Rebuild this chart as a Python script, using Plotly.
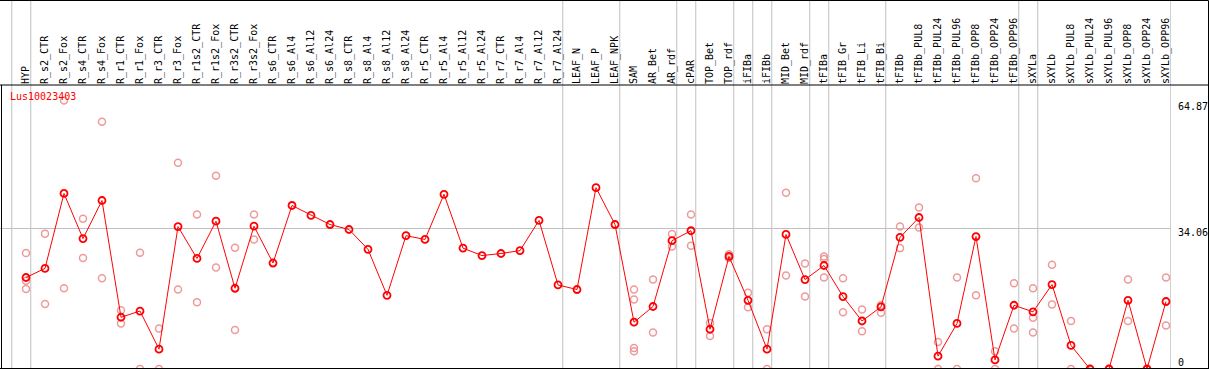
import plotly.graph_objects as go

categories = ["HYP", "R_s2_CTR", "R_s2_Fox", "R_s4_CTR", "R_s4_Fox", "R_r1_CTR", "R_r1_Fox",
              "R_r3_CTR", "R_r3_Fox", "R_r1s2_CTR", "R_r1s2_Fox", "R_r3s2_CTR", "R_r3s2_Fox",
              "R_s6_CTR", "R_s6_Al4", "R_s6_Al12", "R_s6_Al24", "R_s8_CTR", "R_s8_Al4", "R_s8_Al12",
              "R_s8_Al24", "R_r5_CTR", "R_r5_Al4", "R_r5_Al12", "R_r5_Al24", "R_r7_CTR", "R_r7_Al4",
              "R_r7_Al12", "R_r7_Al24", "LEAF_N", "LEAF_P", "LEAF_NPK", "SAM", "AR_Bet", "AR_rdf",
              "cPAR", "TOP_Bet", "TOP_rdf", "iFIBa", "iFIBb", "MID_Bet", "MID_rdf", "tFIBa",
              "tFIB_Gr", "tFIB_Li", "tFIB_Bi", "tFIBb", "tFIBb_PUL8", "tFIBb_PUL24", "tFIBb_PUL96",
              "tFIBb_OPP8", "tFIBb_OPP24", "tFIBb_OPP96", "sXYLa", "sXYLb", "sXYLb_PUL8",
              "sXYLb_PUL24", "sXYLb_PUL96", "sXYLb_OPP8", "sXYLb_OPP24", "sXYLb_OPP96"]

mean_values = [22.1, 24.3, 42.4, 31.5, 40.7, 12.5, 14.0, 4.8, 34.4, 26.7,
               35.7, 19.5, 34.5, 25.6, 39.5, 37.1, 34.9, 33.7, 28.9, 17.8,
               32.2, 31.3, 42.2, 29.2, 27.4, 27.9, 28.6, 35.9, 20.3, 19.2,
               43.8, 34.9, 11.3, 15.1, 31.0, 33.4, 9.6, 27.2, 16.6, 4.8,
               32.5, 21.6, 25.0, 17.5, 11.6, 15.0, 31.8, 36.6, 3.1, 11.0,
               32.0, 2.2, 15.4, 13.8, 20.4, 5.7, 0, 0, 16.6, 0, 16.3]

replicates = [
    [28.0, 21.3, 19.3], [32.7, 15.7], [64.87, 19.5], [36.3, 26.8], [59.7, 21.9],
    [14.2, 11.0], [28.1, 0], [9.8, 0], [49.8, 19.2], [37.3, 16.1],
    [46.7, 24.5], [29.3, 9.4], [37.3, 31.3], [], [],
    [], [], [], [], [],
    [], [], [], [], [],
    [], [], [], [], [],
    [], [], [19.2, 16.8, 5.1, 4.3], [21.6, 8.8], [32.6, 29.6],
    [37.3, 29.8], [11.1, 8.0], [27.7, 26.8], [18.4, 14.9], [9.6, 0],
    [42.6, 22.6], [25.5, 17.5], [27.2, 26.6, 22.1], [21.9, 13.7], [14.4, 9.1],
    [15.4, 13.6], [34.4, 29.2], [39.0, 34.2], [6.5, 0], [22.1, 0],
    [46.1, 17.8], [4.3, 0], [20.7, 9.8], [19.5, 12.4, 8.8], [25.2, 15.6],
    [11.6, 0], [0, 0], [0, 0], [21.6, 11.6], [0, 0], [22.1, 10.5],
]

# index of last category in each group (separator drawn after it)
group_ends = [-1, 0, 28, 31, 34, 35, 37, 38, 39, 41, 42, 45, 52, 53, 60]

axis_labels = [0, 34.06, 64.87]
gene_name = "Lus10023403"

FONT = "DejaVu Sans Mono"
W, H = 1209, 370
T, B, L, R = 85, 1, 0, 38
plot_w = W - L - R
plot_h = H - T - B
slot = 19.0
first_px = 26.0
x_min = -first_px / slot
x_max = (plot_w - first_px) / slot
px_per_unit = 141 / 34.06
y_max = plot_h / px_per_unit

rep_x, rep_y = [], []
for cat, vals in zip(categories, replicates):
    for v in vals:
        rep_x.append(cat)
        rep_y.append(v)

fig = go.Figure()
fig.add_trace(go.Scatter(
    x=rep_x, y=rep_y, mode="markers",
    marker=dict(symbol="circle-open", size=7, color="#ee9a9a", line=dict(width=1.5)),
    hoverinfo="skip", showlegend=False))
fig.add_trace(go.Scatter(
    x=categories, y=mean_values, mode="lines+markers",
    line=dict(color="#ff0000", width=1),
    marker=dict(symbol="circle-open", size=7, color="#ff0000", line=dict(width=1.8)),
    showlegend=False))

top_paper = (plot_h + T - 0.5) / plot_h
right_paper = (W - 0.5) / plot_w
shapes = []
for g in group_ends:
    shapes.append(dict(type="line", xref="x", yref="paper", x0=g + 0.25, x1=g + 0.25,
                       y0=0, y1=top_paper, line=dict(color="#c0c0c0", width=1), layer="below"))
# frame lines
shapes += [
    dict(type="line", xref="paper", yref="paper", x0=0, x1=right_paper, y0=top_paper, y1=top_paper,
         line=dict(color="black", width=1)),
    dict(type="line", xref="paper", yref="paper", x0=0, x1=right_paper, y0=1, y1=1,
         line=dict(color="black", width=1)),
    dict(type="line", xref="paper", yref="paper", x0=0, x1=right_paper, y0=0.5 / plot_h, y1=0.5 / plot_h,
         line=dict(color="black", width=1)),
    dict(type="line", xref="paper", yref="paper", x0=right_paper, x1=right_paper, y0=0, y1=top_paper,
         line=dict(color="black", width=1)),
    dict(type="line", xref="paper", yref="paper", x0=1.5 / plot_w, x1=1.5 / plot_w, y0=0, y1=1,
         line=dict(color="black", width=1)),
]

annotations = [dict(text=gene_name, xref="paper", yref="paper", x=8 / plot_w, xanchor="left",
                    y=(plot_h - 11.7) / plot_h, yanchor="middle", showarrow=False,
                    font=dict(family=FONT, size=10, color="#ff0000"))]
shifts = {0: 7, 34.06: -4, 64.87: -6.5}
for v in axis_labels:
    annotations.append(dict(text=str(v), xref="paper", yref="y", x=1176 / plot_w, xanchor="left",
                            y=v, yanchor="middle", yshift=shifts[v], showarrow=False,
                            font=dict(family=FONT, size=10, color="black")))

fig.update_layout(
    width=W, height=H, margin=dict(l=L, r=R, t=T, b=B, pad=0),
    paper_bgcolor="white", plot_bgcolor="white",
    xaxis=dict(type="category", categoryorder="array", categoryarray=categories,
               range=[x_min, x_max], side="top", tickangle=-90, tickmode="array",
               tickvals=categories, ticktext=categories, ticks="", showgrid=False,
               zeroline=False, showline=False, automargin=False,
               tickfont=dict(family=FONT, size=10, color="black")),
    yaxis=dict(range=[0, y_max], tickmode="array", tickvals=[34.06], showticklabels=False,
               showgrid=True, gridcolor="#c0c0c0", gridwidth=1, zeroline=False,
               showline=False, ticks="", automargin=False),
    shapes=shapes, annotations=annotations,
)

fig.write_html("out.html", config={"displayModeBar": False},
               post_script="document.body.style.margin='0';document.body.style.overflow='hidden';")
